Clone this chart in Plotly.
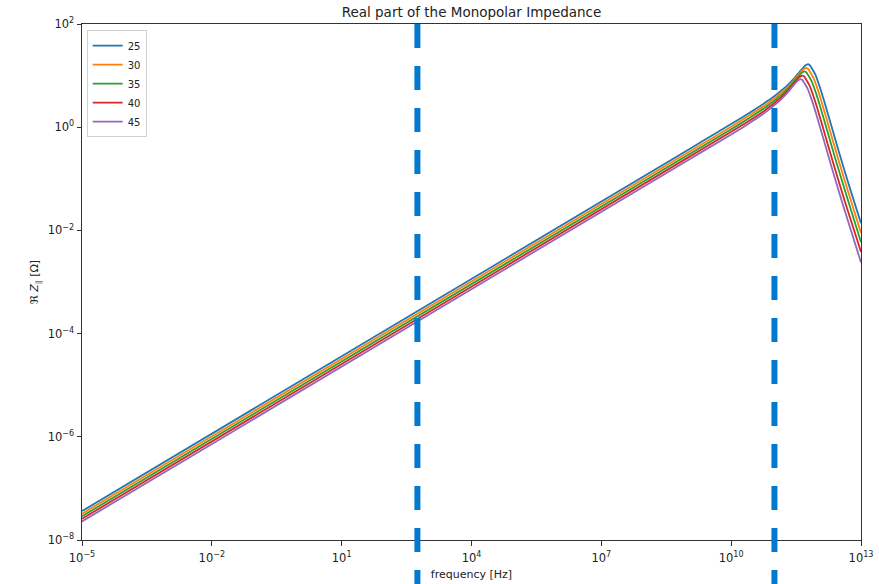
import numpy as np
import plotly.graph_objects as go

# Legend labels
labels = ["25", "30", "35", "40", "45"]
colors = ["#1f77b4", "#ff7f0e", "#2ca02c", "#d62728", "#9467bd"]

# Values, as log10 exponents (frequency in Hz, Re Z in Ohm)
logf_25 = [-5, 9, 10, 10.5, 10.9, 11.1, 11.3, 11.45, 11.58, 11.68, 11.74, 11.78, 11.82, 11.85, 11.94, 12.04, 12.14, 12.3, 12.49, 12.75, 13]
logz_25 = [-7.44, -0.44, 0.06, 0.32, 0.54, 0.67, 0.81, 0.94, 1.07, 1.17, 1.21, 1.22, 1.20, 1.16, 1.03, 0.80, 0.53, 0.07, -0.48, -1.20, -1.86]

logf_30 = [-5, 9, 10, 10.46, 10.86, 11.06, 11.26, 11.41, 11.54, 11.64, 11.70, 11.74, 11.78, 11.81, 11.90, 12.00, 12.10, 12.26, 12.45, 12.71, 13]
logz_30 = [-7.49, -0.49, 0.01, 0.25, 0.47, 0.60, 0.74, 0.87, 1.00, 1.10, 1.14, 1.15, 1.13, 1.09, 0.96, 0.73, 0.46, 0.00, -0.55, -1.27, -2.05]

logf_35 = [-5, 9, 10, 10.42, 10.82, 11.02, 11.22, 11.37, 11.50, 11.60, 11.66, 11.70, 11.74, 11.77, 11.86, 11.96, 12.06, 12.22, 12.41, 12.67, 13]
logz_35 = [-7.54, -0.54, -0.04, 0.18, 0.40, 0.53, 0.67, 0.80, 0.93, 1.03, 1.07, 1.08, 1.06, 1.02, 0.89, 0.66, 0.39, -0.07, -0.62, -1.34, -2.23]

logf_40 = [-5, 9, 10, 10.37, 10.77, 10.97, 11.17, 11.32, 11.45, 11.55, 11.61, 11.65, 11.69, 11.72, 11.81, 11.91, 12.01, 12.17, 12.36, 12.62, 13]
logz_40 = [-7.59, -0.59, -0.09, 0.10, 0.32, 0.45, 0.59, 0.72, 0.85, 0.95, 0.99, 1.00, 0.98, 0.94, 0.81, 0.58, 0.31, -0.15, -0.70, -1.42, -2.42]

logf_45 = [-5, 9, 10, 10.33, 10.73, 10.93, 11.13, 11.28, 11.41, 11.51, 11.57, 11.61, 11.65, 11.68, 11.77, 11.87, 11.97, 12.13, 12.32, 12.58, 13]
logz_45 = [-7.64, -0.64, -0.14, 0.03, 0.25, 0.38, 0.52, 0.65, 0.78, 0.88, 0.92, 0.93, 0.91, 0.87, 0.74, 0.51, 0.24, -0.22, -0.77, -1.50, -2.62]

# Vertical dashed markers (Hz)
vlines_hz = [10 ** 2.75, 1e11]

# Axis ticks
x_tickvals = [1e-5, 1e-2, 1e1, 1e4, 1e7, 1e10, 1e13]
x_ticktext = ["10<sup>−5</sup>", "10<sup>−2</sup>", "10<sup>1</sup>", "10<sup>4</sup>",
              "10<sup>7</sup>", "10<sup>10</sup>", "10<sup>13</sup>"]
y_tickvals = [1e-8, 1e-6, 1e-4, 1e-2, 1e0, 1e2]
y_ticktext = ["10<sup>−8</sup>", "10<sup>−6</sup>", "10<sup>−4</sup>", "10<sup>−2</sup>",
              "10<sup>0</sup>", "10<sup>2</sup>"]

series = [
    (logf_25, logz_25),
    (logf_30, logz_30),
    (logf_35, logz_35),
    (logf_40, logz_40),
    (logf_45, logz_45),
]

fig = go.Figure()
for (lf, lz), lab, col in zip(series, labels, colors):
    fig.add_trace(go.Scatter(
        x=10 ** np.array(lf, dtype=float),
        y=10 ** np.array(lz, dtype=float),
        mode="lines",
        name=lab,
        line=dict(color=col, width=1.8, shape="spline", smoothing=0.6),
    ))

for v in vlines_hz:
    fig.add_shape(type="line", xref="x", yref="paper",
                  x0=v, x1=v, y0=1, y1=-0.2,
                  line=dict(color="#0079cf", width=6, dash="24px,18px"),
                  layer="above")

font = "DejaVu Sans, Liberation Sans, sans-serif"
fig.update_layout(
    width=879, height=584,
    margin=dict(l=82, r=18, t=24, b=44),
    paper_bgcolor="white", plot_bgcolor="white",
    font=dict(family=font, size=11, color="#222"),
    title=dict(text="Real part of the Monopolar Impedance",
               x=0.5, xref="paper", xanchor="center",
               y=1 - 12 / 584, yref="container", yanchor="middle",
               font=dict(size=13.5, color="#222")),
    showlegend=True,
    legend=dict(x=0.006, y=0.988, xanchor="left", yanchor="top",
                bgcolor="rgba(255,255,255,0.8)", bordercolor="#d0d0d0",
                borderwidth=1, font=dict(size=10), itemwidth=30,
                tracegroupgap=0),
)
fig.update_xaxes(type="log", range=[-5, 13], tickvals=x_tickvals, ticktext=x_ticktext,
                 automargin=False,
                 showgrid=False, zeroline=False, showline=True, mirror=True,
                 linecolor="#333", linewidth=1, ticks="outside", ticklen=4.5,
                 tickwidth=1, tickcolor="#333", ticklabelstandoff=3,
                 tickfont=dict(size=11.5),
                 title=dict(text="frequency [Hz]", standoff=6, font=dict(size=11)))
fig.update_yaxes(type="log", range=[-8, 2], tickvals=y_tickvals, ticktext=y_ticktext,
                 automargin=False,
                 showgrid=False, zeroline=False, showline=True, mirror=True,
                 linecolor="#333", linewidth=1, ticks="outside", ticklen=4.5,
                 tickwidth=1, tickcolor="#333", tickfont=dict(size=11.5),
                 title=dict(text="ℜ <i>Z</i><sub>∥</sub> [Ω]", standoff=6, font=dict(size=11)))

fig.write_html("out.html")
